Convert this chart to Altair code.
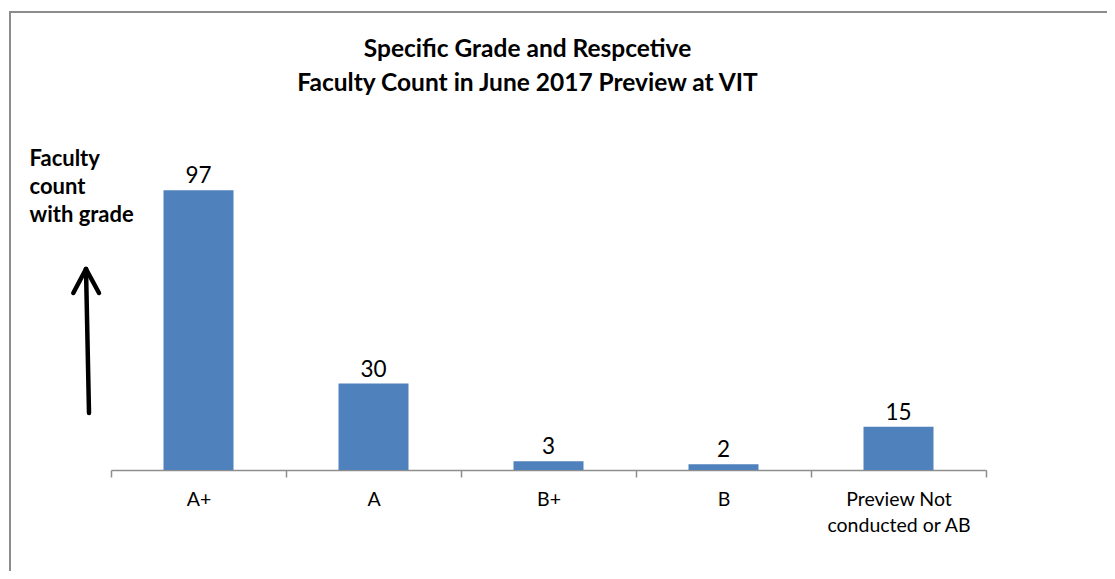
import altair as alt
import pandas as pd

# ---- data ----
grades = ["A+", "A", "B+", "B", "Preview Not\nconducted or AB"]
counts = [97, 30, 3, 2, 15]

title_lines = ["Specific Grade and Respcetive", "Faculty Count in June 2017 Preview at VIT"]
y_title_lines = ["Faculty", "count", "with grade"]

# decorative arrow segments (pixel offsets relative to plot origin)
arrow_x = [-22.0, -25.0, -25.0]
arrow_y = [289.0, 145.0, 145.0]
arrow_x2 = [-25.0, -37.7, -12.0]
arrow_y2 = [145.0, 169.0, 169.0]

df = pd.DataFrame({"grade": grades, "count": counts})
one = pd.DataFrame({"k": [0]})

W, H = 875, 346
BAR = "#4F81BD"
FONT = "Lato"

x_enc = alt.X(
    "grade:N",
    sort=grades,
    scale=alt.Scale(paddingInner=0, paddingOuter=0),
    axis=alt.Axis(
        title=None,
        labelAngle=0,
        labelExpr="isValid(datum.value) ? split(datum.value, '\\n') : ''",
        labelFont=FONT,
        labelFontSize=19.5,
        labelColor="#000000",
        labelLineHeight=26,
        labelPadding=13,
        tickBand="extent",
        tickSize=7,
        tickColor="#8e8e8e",
        tickWidth=1.5,
        domainColor="#8e8e8e",
        domainWidth=1.5,
        grid=False,
    ),
)
y_enc = alt.Y(
    "count:Q",
    scale=alt.Scale(domain=[0, 120], nice=False),
    axis=alt.Axis(
        title=y_title_lines,
        titleAngle=0,
        titleAlign="left",
        titleBaseline="alphabetic",
        titleX=-82,
        titleY=41,
        titleFont=FONT,
        titleFontSize=22,
        titleFontWeight="bold",
        titleLineHeight=28,
        titleColor="#000000",
        domain=False,
        ticks=False,
        labels=False,
        grid=False,
    ),
)

bars = alt.Chart(df).mark_bar(color=BAR, width=alt.RelativeBandSize(band=0.4)).encode(x=x_enc, y=y_enc)
labels = alt.Chart(df).mark_text(
    font=FONT, fontSize=22.5, color="#000000", baseline="alphabetic", dy=-7
).encode(x=alt.X("grade:N", sort=grades), y="count:Q", text="count:Q")

arrow_parts = [
    alt.Chart(one).mark_rule(color="#000000", strokeWidth=4.5, strokeCap="round").encode(
        x=alt.value(arrow_x[i]), y=alt.value(arrow_y[i]),
        x2=alt.value(arrow_x2[i]), y2=alt.value(arrow_y2[i]),
    )
    for i in range(len(arrow_x))
]

frame = alt.Chart(one).mark_rect(fillOpacity=0, stroke="#8c8c8c", strokeWidth=2).encode(
    x=alt.value(-101), x2=alt.value(1300), y=alt.value(-112), y2=alt.value(800)
)

chart = alt.layer(frame, bars, labels, *arrow_parts).properties(
    width=W,
    height=H,
    title=alt.TitleParams(
        text=title_lines,
        font=FONT,
        fontSize=24.5,
        fontWeight="bold",
        color="#000000",
        lineHeight=34,
        anchor="middle",
        frame="group",
        dx=-21,
        offset=0,
        dy=85,
    ),
    autosize=alt.AutoSizeParams(type="none"),
    padding={"left": 103, "top": 116, "right": 121, "bottom": 101},
).configure(background="#ffffff").configure_view(strokeWidth=0)

chart.save("out.html", embed_options={"renderer": "svg", "actions": False})
